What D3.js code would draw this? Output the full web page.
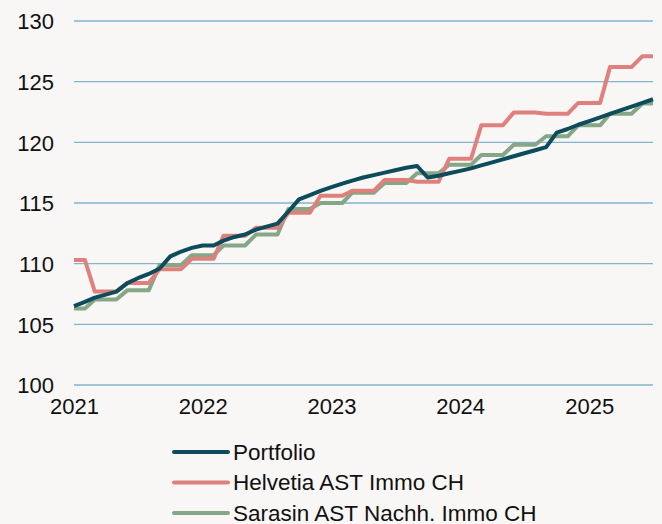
<!DOCTYPE html>
<html>
<head>
  <meta charset="utf-8">
  <title>Portfolio vs. Benchmarks</title>
  <style>
    body { margin: 0; background: #f8f7f5; }
    svg { display: block; font-family: "Liberation Sans", Arial, sans-serif; }
    .grid line { stroke: #80b5ce; stroke-width: 1.3px; }
    .tick text { fill: #111; font-size: 22px; }
    .series { fill: none; stroke-width: 4px; stroke-linejoin: round; stroke-linecap: butt; }
    .legend text { fill: #111; font-size: 22.5px; }
  </style>
</head>
<body>
  <svg id="chart" width="662" height="524"></svg>

  <script src="https://d3js.org/d3.v7.min.js"></script>
  <script>
    // monthly values, Jan 2021 .. Jul 2025
    const startMonth = '2021-01';
    const yTicks = [100, 105, 110, 115, 120, 125, 130];
    const xTicks = ['2021', '2022', '2023', '2024', '2025'];

    const portfolio = [
      106.5, 106.85, 107.2, 107.45, 107.7, 108.4, 108.8, 109.15, 109.6, 110.6,
      111.0, 111.3, 111.5, 111.5, 111.9, 112.2, 112.4, 112.8, 113.05, 113.3,
      114.3, 115.3, 115.65, 116.0, 116.3, 116.6, 116.85, 117.1, 117.3, 117.5,
      117.7, 117.9, 118.05, 117.1, 117.25, 117.45, 117.65, 117.85, 118.1, 118.35,
      118.6, 118.85, 119.1, 119.35, 119.6, 120.8, 121.1, 121.45, 121.75, 122.05,
      122.35, 122.65, 122.95, 123.25, 123.55
    ];
    const helvetia = [
      110.3, 110.3, 107.7, 107.7, 107.7, 108.4, 108.4, 108.4, 109.55, 109.55,
      109.55, 110.4, 110.4, 110.4, 112.3, 112.3, 112.3, 112.95, 112.95, 112.95,
      114.2, 114.2, 114.2, 115.6, 115.6, 115.6, 116.0, 116.0, 116.0, 116.9,
      116.9, 116.9, 116.75, 116.75, 116.75, 118.65, 118.65, 118.65, 121.4, 121.4,
      121.4, 122.45, 122.45, 122.45, 122.35, 122.35, 122.35, 123.25, 123.25, 123.25,
      126.2, 126.2, 126.2, 127.1, 127.1
    ];
    const sarasin = [
      106.3, 106.3, 107.05, 107.05, 107.05, 107.8, 107.8, 107.8, 109.9, 109.9,
      109.9, 110.7, 110.7, 110.7, 111.5, 111.5, 111.5, 112.4, 112.4, 112.4,
      114.5, 114.5, 114.5, 115.0, 115.0, 115.0, 115.85, 115.85, 115.85, 116.65,
      116.65, 116.65, 117.45, 117.45, 117.45, 118.15, 118.15, 118.15, 118.95, 118.95,
      118.95, 119.8, 119.8, 119.8, 120.5, 120.5, 120.5, 121.4, 121.4, 121.4,
      122.35, 122.35, 122.35, 123.2, 123.2
    ];

    const seriesNames = ['Portfolio', 'Helvetia AST Immo CH', 'Sarasin AST Nachh. Immo CH'];
    const seriesColors = ['#0d4c5b', '#e0807d', '#86a688'];
    const seriesValues = [portfolio, helvetia, sarasin];

    const parseMonth = d3.timeParse('%Y-%m');
    const start = parseMonth(startMonth);
    const dates = portfolio.map((_, i) => d3.timeMonth.offset(start, i));

    const svg = d3.select('#chart');
    const x = d3.scaleTime()
      .domain([start, dates[dates.length - 1]])
      .range([74, 653]);
    const y = d3.scaleLinear()
      .domain([100, 130])
      .range([385, 21]);

    // horizontal grid
    svg.append('g')
      .attr('class', 'grid')
      .selectAll('line')
      .data(yTicks)
      .enter().append('line')
      .attr('x1', 74)
      .attr('x2', 653)
      .attr('y1', d => y(d))
      .attr('y2', d => y(d));

    // y axis labels
    const yAxis = svg.append('g')
      .attr('transform', 'translate(54,0)')
      .call(d3.axisLeft(y).tickValues(yTicks).tickSize(0).tickPadding(0));
    yAxis.select('.domain').remove();
    yAxis.selectAll('text').attr('dy', '0.35em');

    // x axis labels
    const xAxis = svg.append('g')
      .attr('transform', 'translate(0,398)')
      .call(d3.axisBottom(x)
        .tickValues(xTicks.map(d => d3.timeParse('%Y')(d)))
        .tickFormat(d3.timeFormat('%Y'))
        .tickSize(0).tickPadding(0));
    xAxis.select('.domain').remove();
    xAxis.selectAll('text').attr('dy', '0.71em');

    const line = d3.line()
      .x((d, i) => x(dates[i]))
      .y(d => y(d));

    // draw back to front: sarasin, helvetia, portfolio on top
    [2, 1, 0].forEach(k => {
      svg.append('path')
        .attr('class', 'series')
        .attr('stroke', seriesColors[k])
        .attr('d', line(seriesValues[k]));
    });

    // legend
    const legend = svg.append('g').attr('class', 'legend');
    seriesNames.forEach((name, i) => {
      const cy = 452 + i * 30.5;
      legend.append('line')
        .attr('x1', 174).attr('x2', 228)
        .attr('y1', cy).attr('y2', cy)
        .attr('stroke', seriesColors[i])
        .attr('stroke-width', 4)
        .attr('stroke-linecap', 'round');
      legend.append('text')
        .attr('x', 233)
        .attr('y', cy)
        .attr('dy', '0.35em')
        .text(name);
    });
  </script>
</body>
</html>
